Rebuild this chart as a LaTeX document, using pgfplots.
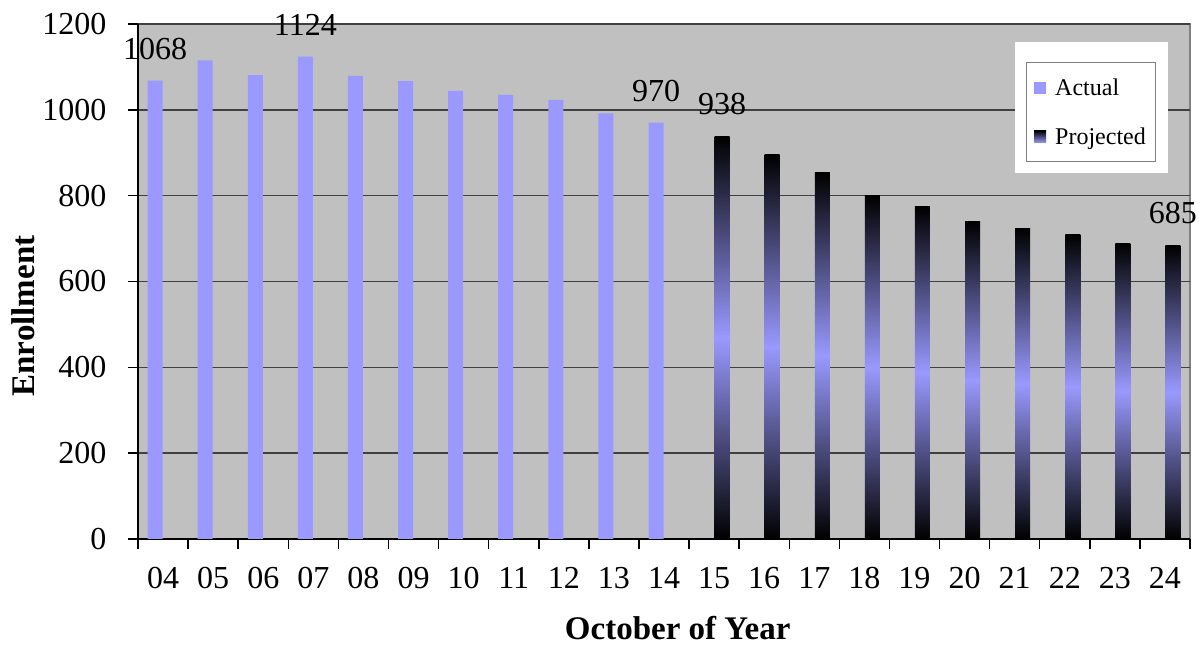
\documentclass[border=0pt]{standalone}
\usepackage{pgfplots}
\pgfplotsset{compat=1.18}
\usepackage{fontspec}
\setmainfont{Liberation Serif}
\definecolor{barblue}{RGB}{153,153,255}
\definecolor{plotbg}{RGB}{192,192,192}
\definecolor{gridc}{RGB}{64,64,64}
\definecolor{frameg}{RGB}{128,128,128}
\pgfplotsset{proj/.style={top color=black, bottom color=black, middle color=barblue, draw=none, bar shift=8pt}}
\begin{document}
\begin{tikzpicture}
\begin{axis}[
  scale only axis, width=1052pt, height=515pt,
  clip=false,
  xmin=-0.5, xmax=20.5, ymin=0, ymax=1200,
  axis background/.style={fill=plotbg, draw=frameg, line width=1.5pt},
  axis lines*=left,
  axis line style={black, line width=1.5pt, -},
  ytick={0,200,...,1200},
  ymajorgrids, grid style={gridc, line width=1.5pt},
  xtick={-0.5,0.5,...,20.5},
  xticklabels={04,05,06,07,08,09,10,11,12,13,14,15,16,17,18,19,20,21,22,23,24},
  x tick label as interval,
  tick align=outside, major tick length=10pt,
  tick style={black, line width=1.5pt},
  scaled ticks=false,
  /pgf/number format/1000 sep={},
  /pgf/number format/assume math mode=true,
  ticklabel style={font=\fontsize{32}{34}\selectfont},
  yticklabel style={xshift=-18pt},
  xticklabel style={yshift=-15pt},
  xlabel={October of Year},
  xlabel style={at={(axis description cs:0.513,0)}, anchor=center, yshift=-89pt, font=\bfseries\fontsize{33}{35}\selectfont},
  ylabel={Enrollment},
  ylabel style={at={(axis description cs:-0.109,0.433)}, anchor=center, font=\bfseries\fontsize{33}{35}\selectfont},
  ybar, bar width=15pt,
  point meta=explicit symbolic,
  nodes near coords,
  nodes near coords style={anchor=south, inner sep=0pt, yshift=21pt, font=\fontsize{32}{34}\selectfont, black},
  legend style={at={(rel axis cs:0.968,0.926)}, anchor=north east, draw=frameg, fill=white, line width=1pt,
    font=\fontsize{24}{26}\selectfont, inner xsep=8pt, inner ysep=14pt, row sep=27pt, cells={anchor=west},
    /tikz/every odd column/.append style={column sep=7pt}},
  legend cell align=left,
]
\fill[white] (rel axis cs:0.834,0.711) rectangle (rel axis cs:0.979,0.965);
\addplot[fill=barblue, draw=none, bar shift=-8pt,
  legend image code/.code={\fill[barblue] (0pt,-6pt) rectangle (12pt,6pt);}]
  coordinates {(0,1068)[1068] (1,1115)[] (2,1081)[] (3,1124)[1124] (4,1079)[] (5,1067)[] (6,1044)[] (7,1035)[] (8,1023)[] (9,992)[] (10,970)[970]};
\addlegendentry{Actual}
\addplot[proj, legend image code/.code={\fill[top color=black, bottom color=barblue] (0pt,-6pt) rectangle (12pt,6pt);}]
  coordinates {(11,938)[938]};
\addlegendentry{Projected}
\addplot[proj, forget plot] coordinates {(12,896)[]};
\addplot[proj, forget plot] coordinates {(13,854)[]};
\addplot[proj, forget plot] coordinates {(14,800)[]};
\addplot[proj, forget plot] coordinates {(15,774)[]};
\addplot[proj, forget plot] coordinates {(16,739)[]};
\addplot[proj, forget plot] coordinates {(17,724)[]};
\addplot[proj, forget plot] coordinates {(18,709)[]};
\addplot[proj, forget plot] coordinates {(19,689)[]};
\addplot[proj, forget plot] coordinates {(20,685)[685]};
\coordinate (BBbl) at (rel axis cs:-0.1312,-0.2058);
\coordinate (BBtr) at (rel axis cs:1.0133,1.0466);
\end{axis}
\pgfresetboundingbox
\path[use as bounding box] (BBbl) rectangle (BBtr);
\end{tikzpicture}
\end{document}
